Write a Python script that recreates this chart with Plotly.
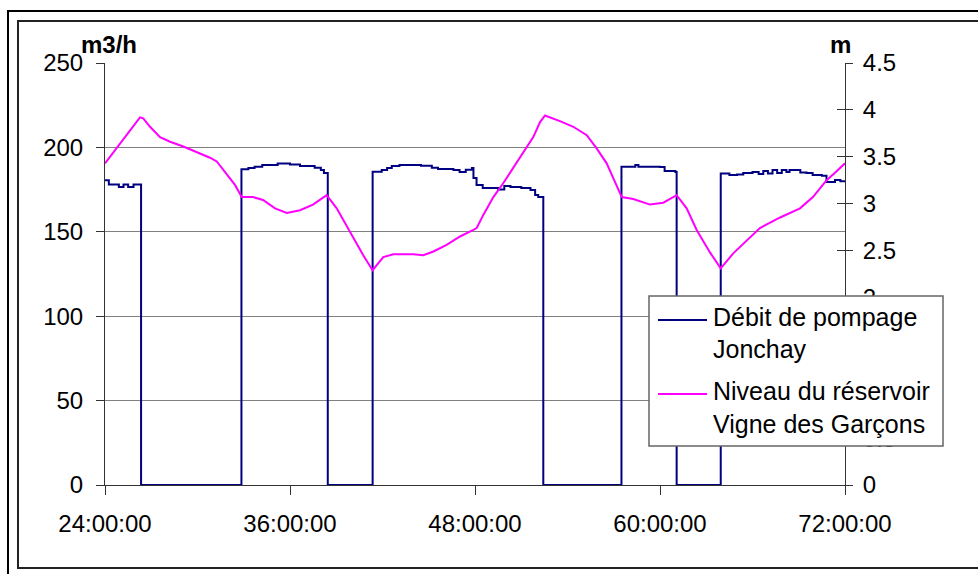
import plotly.graph_objects as go

# Pumping flow at Jonchay (m3/h), stepwise record over time in hours
flow_hours = [24.00, 24.25, 24.90, 25.20, 25.50, 25.85, 26.34,
              32.85, 33.30, 33.70, 34.20, 35.20, 36.00, 36.65, 37.60, 38.00, 38.20, 38.45,
              41.36, 41.95, 42.30, 42.60, 43.10, 44.50, 45.20, 45.60, 46.60, 47.00, 47.40,
              47.80, 47.90, 48.10, 48.50, 49.50, 49.90, 50.30, 51.00, 51.60, 51.90, 52.10, 52.43,
              57.50, 58.40, 58.60, 60.00, 60.30, 61.00, 61.08,
              63.94, 64.50, 65.00, 65.40, 66.00, 66.40, 66.70, 67.00, 67.30, 67.60, 67.90,
              68.20, 68.40, 69.10, 69.50, 69.90, 70.50, 70.80, 71.35, 71.70, 72.00]
flow_m3h = [180.5, 178.0, 176.5, 178.0, 176.5, 178.0, 0,
            187.0, 187.8, 188.6, 189.6, 190.4, 189.8, 189.0, 188.0, 186.6, 184.8, 0,
            185.6, 186.6, 187.8, 189.0, 189.6, 189.2, 188.0, 187.2, 186.6, 185.4, 186.8,
            187.8, 181.9, 177.7, 176.0, 175.0, 177.1, 176.5, 176.0, 174.8, 171.8, 170.6, 0,
            188.6, 189.6, 188.6, 188.4, 186.0, 185.4, 0,
            184.6, 183.6, 184.0, 184.8, 185.4, 184.2, 186.0, 184.6, 186.6, 184.8, 186.6,
            185.4, 186.6, 185.2, 184.8, 183.6, 183.2, 179.5, 180.7, 180.0, 180.0]

# Water level in the Vigne des Garçons reservoir (m)
level_hours = [24.00, 24.97, 25.84, 26.27, 26.48, 26.92, 27.57, 28.22, 29.08, 29.95,
               30.81, 31.25, 31.89, 32.43, 32.87, 33.60, 34.25, 35.03, 35.79, 36.65,
               37.49, 38.38, 39.03, 39.89, 40.75, 41.36, 42.05, 42.70, 44.00, 44.65,
               45.30, 46.16, 47.03, 47.89, 48.11, 48.54, 49.19, 49.84, 50.49, 51.14,
               51.78, 52.22, 52.54, 53.51, 54.38, 55.25, 55.89, 56.54, 57.19, 57.52,
               58.27, 59.35, 60.21, 60.65, 61.08, 61.73, 62.38, 63.24, 63.94, 64.75,
               65.62, 66.48, 67.76, 69.08, 69.92, 70.81, 71.35, 72.00]
level_m = [3.43, 3.64, 3.82, 3.92, 3.91, 3.82, 3.71, 3.66, 3.61, 3.55,
           3.49, 3.45, 3.32, 3.20, 3.07, 3.07, 3.04, 2.95, 2.90, 2.93,
           2.99, 3.09, 2.95, 2.70, 2.45, 2.29, 2.43, 2.46, 2.46, 2.45,
           2.49, 2.56, 2.65, 2.72, 2.74, 2.88, 3.07, 3.22, 3.38, 3.54,
           3.71, 3.87, 3.94, 3.88, 3.82, 3.73, 3.59, 3.43, 3.18, 3.07,
           3.05, 2.99, 3.01, 3.05, 3.09, 2.95, 2.72, 2.48, 2.31, 2.47,
           2.61, 2.74, 2.85, 2.95, 3.07, 3.25, 3.33, 3.43]

x_tick_values = [24, 36, 48, 60, 72]
x_tick_labels = ["24:00:00", "36:00:00", "48:00:00", "60:00:00", "72:00:00"]

flow_name = ["Débit de pompage", "Jonchay"]
level_name = ["Niveau du réservoir", "Vigne des Garçons"]

W, H = 978, 574
PL, PR, PT, PB = 105, 845, 63, 485  # plot area in pixels

FONT = "Liberation Sans, Arial, sans-serif"
FS = 24


def px(xp):
    return (xp - PL) / (PR - PL)


def py(yp):
    return (PB - yp) / (PB - PT)


def polyline(points):
    return "M" + " L".join(f"{px(a):.5f},{py(b):.5f}" for a, b in points)


fig = go.Figure()
fig.add_trace(go.Scatter(x=flow_hours, y=flow_m3h, mode="lines",
                         line=dict(color="#000080", width=2, shape="hv"),
                         showlegend=False, hoverinfo="skip"))
fig.add_trace(go.Scatter(x=level_hours, y=level_m, mode="lines", yaxis="y2",
                         line=dict(color="#FF00FF", width=2),
                         showlegend=False, hoverinfo="skip"))
# helper trace so the inner tick marks of the right axis get drawn
fig.add_trace(go.Scatter(x=[None], y=[None], yaxis="y3", showlegend=False,
                         hoverinfo="skip"))

axis_font = dict(family=FONT, size=FS, color="black")
fig.update_layout(
    width=W, height=H,
    margin=dict(l=PL, r=W - PR, t=PT, b=H - PB, pad=0),
    paper_bgcolor="white", plot_bgcolor="white",
    showlegend=False,
    xaxis=dict(range=[24, 72], tickvals=x_tick_values, ticktext=x_tick_labels,
               ticks="outside", ticklen=9, tickcolor="#333", tickwidth=1,
               showline=True, linecolor="#333", linewidth=1,
               showgrid=False, zeroline=False, tickfont=axis_font,
               ticklabelstandoff=8),
    yaxis=dict(range=[0, 250], tick0=0, dtick=50,
               ticks="outside", ticklen=8, tickcolor="#333", tickwidth=1,
               showline=True, linecolor="#333", linewidth=1,
               showgrid=True, gridcolor="#808080", gridwidth=1,
               zeroline=False, tickfont=axis_font, ticklabelstandoff=8),
    yaxis2=dict(range=[0, 4.5], tick0=0, dtick=0.5, overlaying="y", side="right",
                ticks="outside", ticklen=7, tickcolor="#333", tickwidth=1,
                showline=True, linecolor="#333", linewidth=1,
                showgrid=False, zeroline=False, tickfont=axis_font,
                ticklabelstandoff=5),
    yaxis3=dict(range=[0, 4.5], tick0=0, dtick=0.5, overlaying="y", side="right",
                ticks="inside", ticklen=8, tickcolor="#333", tickwidth=1,
                showline=False, showgrid=False, zeroline=False,
                showticklabels=False),
)


def hline(x0, x1, y, color, width):
    return dict(type="line", xref="paper", yref="paper",
                x0=px(x0), x1=px(x1), y0=py(y), y1=py(y),
                line=dict(color=color, width=width), layer="above")


shapes = [
    # double frame around the chart; right and lower sides run off the page
    dict(type="path", xref="paper", yref="paper", layer="above",
         path=polyline([(8, H + 4), (8, 11), (W + 4, 11)]),
         line=dict(color="black", width=2), fillcolor="rgba(0,0,0,0)"),
    dict(type="path", xref="paper", yref="paper", layer="above",
         path=polyline([(W + 4, 568), (18, 568), (18, 21), (W + 4, 21)]),
         line=dict(color="#222", width=2), fillcolor="rgba(0,0,0,0)"),
    # legend box
    dict(type="rect", xref="paper", yref="paper",
         x0=px(649), x1=px(943), y0=py(446), y1=py(296),
         line=dict(color="#666", width=1.5), fillcolor="white", layer="above"),
    hline(658, 707, 320, "#000080", 2),
    hline(658, 707, 394, "#FF00FF", 2),
]

legend_font = dict(family=FONT, size=25, color="black")
annotations = []
for text, yc in [(flow_name[0], 317), (flow_name[1], 349),
                 (level_name[0], 391), (level_name[1], 424)]:
    annotations.append(dict(text=text, xref="paper", yref="paper",
                            x=px(711), y=py(yc), xanchor="left", yanchor="middle",
                            showarrow=False, font=legend_font))
annotations.append(dict(text="<b>m3/h</b>", xref="paper", yref="paper",
                        x=px(79), y=py(44), xanchor="left", yanchor="middle",
                        showarrow=False, font=axis_font))
annotations.append(dict(text="<b>m</b>", xref="paper", yref="paper",
                        x=px(828), y=py(44), xanchor="left", yanchor="middle",
                        showarrow=False, font=axis_font))

fig.update_layout(shapes=shapes, annotations=annotations)
fig.write_html("out.html")
